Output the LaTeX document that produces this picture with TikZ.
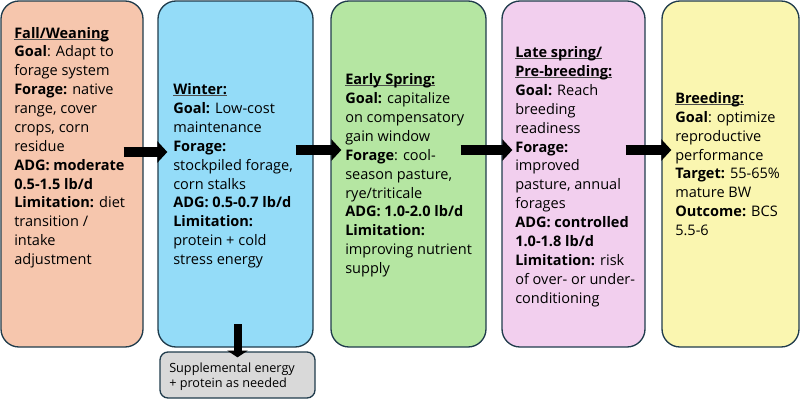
\documentclass[tikz,border=0pt]{standalone}
\usepackage{fontspec}
\setmainfont{Open Sans}
\usetikzlibrary{arrows.meta}
\definecolor{bordc}{HTML}{203C4C}
\definecolor{cfall}{HTML}{F6C6AD}
\definecolor{cwinter}{HTML}{94DCF8}
\definecolor{cspring}{HTML}{B5E6A2}
\definecolor{clate}{HTML}{F2CFEE}
\definecolor{cbreed}{HTML}{FAF6B0}
\definecolor{cgrey}{HTML}{D9D9D9}
\newsavebox\ulbox
\newcommand\hdr[1]{\sbox\ulbox{\textbf{#1}}\rlap{\color{black!70}\rule[-1.2pt]{\wd\ulbox}{0.75pt}}\usebox\ulbox}
\begin{document}
\begin{tikzpicture}[x=0.75pt,y=-0.75pt,
  box/.style={draw=bordc, line width=1pt, rounded corners=13.5pt, inner sep=0pt},
  txt/.style={anchor=base west, align=left, inner sep=0pt, font=\fontsize{10.9pt}{14.15pt}\selectfont},
  smalltxt/.style={anchor=base west, align=left, inner sep=0pt, font=\fontsize{9.5pt}{11.25pt}\selectfont},
  blockarrow/.style={line width=7.5pt, -{Triangle[length=7.5pt,width=15.75pt]}},
  downarrow/.style={line width=6pt, -{Triangle[length=5pt,width=15pt]}}]
\useasboundingbox (0,0) rectangle (800,400);
% boxes
\node[box, fill=cfall, minimum width=106.5pt, minimum height=259.5pt] (b1) at (72,174) {};
\node[box, fill=cwinter, minimum width=116.25pt, minimum height=259.5pt] (b2) at (235.5,174) {};
\node[box, fill=cspring, minimum width=116.25pt, minimum height=259.5pt] (b3) at (408.5,174) {};
\node[box, fill=clate, minimum width=107.25pt, minimum height=259.5pt] (b4) at (573.5,174) {};
\node[box, fill=cbreed, minimum width=102.75pt, minimum height=259.5pt] (b5) at (730.5,174) {};
\node[box, fill=cgrey, rounded corners=6pt, minimum width=116.25pt, minimum height=34.5pt] (g) at (237.5,375) {};
% texts (anchored at the baseline of the last line)
\node[txt] (t1) at (14,264.5) {\hdr{Fall/Weaning}\\
\textbf{Goal}: Adapt to\\
forage system\\
\textbf{Forage:} native\\
range, cover\\
crops, corn\\
residue\\
\textbf{ADG: moderate}\\
\textbf{0.5-1.5 lb/d}\\
\textbf{Limitation:} diet\\
transition /\\
intake\\
adjustment};
\node[txt] (t2) at (173,264.5) {\hdr{Winter:}\\
\textbf{Goal:} Low-cost\\
maintenance\\
\textbf{Forage:}\\
stockpiled forage,\\
corn stalks\\
\textbf{ADG: 0.5-0.7 lb/d}\\
\textbf{Limitation:}\\
protein + cold\\
stress energy};
\node[txt] (t3) at (345,273.5) {\hdr{Early Spring:}\\
\textbf{Goal:} capitalize\\
on compensatory\\
gain window\\
\textbf{Forage}: cool-\\
season pasture,\\
rye/triticale\\
\textbf{ADG: 1.0-2.0 lb/d}\\
\textbf{Limitation:}\\
improving nutrient\\
supply};
\node[txt] (t4) at (515,303) {\hdr{Late spring/}\\
\hdr{Pre-breeding:}\\
\textbf{Goal:} Reach\\
breeding\\
readiness\\
\textbf{Forage:}\\
improved\\
pasture, annual\\
forages\\
\textbf{ADG: controlled}\\
\textbf{1.0-1.8 lb/d}\\
\textbf{Limitation:} risk\\
of over- or under-\\
conditioning};
\node[txt] (t5) at (675,235.5) {\hdr{Breeding:}\\
\textbf{Goal}: optimize\\
reproductive\\
performance\\
\textbf{Target:} 55-65\%\\
mature BW\\
\textbf{Outcome:} BCS\\
5.5-6};
\node[smalltxt] (tg) at (169,387.7) {Supplemental energy\\
+ protein as needed};
% arrows
\draw[blockarrow] ([shift={(-20,-22)}]b1.east) -- ([shift={(10,-22)}]b2.west);
\draw[blockarrow] ([shift={(-18,-24)}]b2.east) -- ([shift={(11,-24)}]b3.west);
\draw[blockarrow] ([shift={(-26,-24)}]b3.east) -- ([shift={(11,-24)}]b4.west);
\draw[blockarrow] ([shift={(-20,-24)}]b4.east) -- ([shift={(10,-24)}]b5.west);
\draw[downarrow] ([shift={(0,-27)}]g.north) -- ([shift={(0,6)}]g.north);
\end{tikzpicture}
\end{document}
